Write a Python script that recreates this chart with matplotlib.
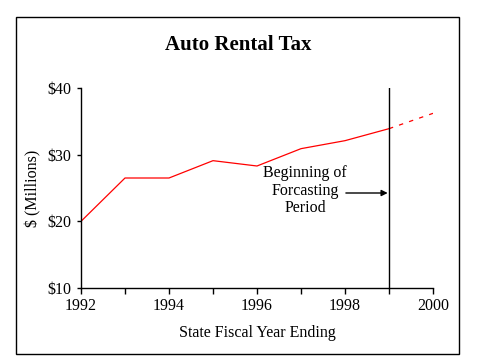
import matplotlib
matplotlib.use("Agg")
import matplotlib.pyplot as plt
from matplotlib.patches import Rectangle

# Data
years_actual = [1992, 1993, 1994, 1995, 1996, 1997, 1998, 1999]
revenue_actual = [20.0, 26.5, 26.5, 29.1, 28.3, 30.9, 32.1, 33.9]
years_forecast = [1999, 2000]
revenue_forecast = [33.9, 36.2]
forecast_start = 1999
x_ticks_major = [1992, 1994, 1996, 1998, 2000]
x_ticks_minor = [1993, 1995, 1997, 1999]
y_ticks = [10, 20, 30, 40]
y_tick_labels = ["$10", "$20", "$30", "$40"]

plt.rcParams['font.family'] = ['Liberation Serif', 'DejaVu Serif']

W, H = 479, 359
fig = plt.figure(figsize=(W / 100, H / 100), dpi=100)
fig.patch.set_facecolor('white')

# Outer frame
fig.patches.append(Rectangle((16 / W, 1 - 354 / H), 443 / W, 337 / H,
                             transform=fig.transFigure, fill=False,
                             edgecolor='black', linewidth=1.0))

ax = fig.add_axes([81 / W, 1 - 288 / H, 352 / W, 200 / H])
ax.plot(years_actual, revenue_actual, color='red', linewidth=0.9)
ax.plot(years_forecast, revenue_forecast, color='red', linewidth=0.9,
        linestyle=(0, (3.5, 5)))
ax.plot([forecast_start, forecast_start], [10, 40], color='black', linewidth=1.0)

ax.set_xlim(1992, 2000)
ax.set_ylim(10, 40)
ax.set_xticks(x_ticks_major)
ax.set_xticks(x_ticks_minor, minor=True)
ax.set_yticks(y_ticks)
ax.set_yticklabels(y_tick_labels)
for s in ['top', 'right']:
    ax.spines[s].set_visible(False)
for s in ['left', 'bottom']:
    ax.spines[s].set_linewidth(1.0)
ax.tick_params(axis='x', which='both', direction='out', length=4.5, width=1.0,
               labelsize=11.5, pad=3)
ax.tick_params(axis='y', direction='out', length=3, width=1.0,
               labelsize=11.5, pad=4)

ax.text(1997.09, 24.6, "Beginning of\nForcasting\nPeriod", ha='center', va='center',
        fontsize=11.5, linespacing=1.1)
ax.annotate("", xy=(1998.97, 24.25), xytext=(1998.02, 24.25),
            arrowprops=dict(arrowstyle='-|>', color='black', lw=1.0,
                            mutation_scale=9, shrinkA=0, shrinkB=0))

fig.text(238 / W, 1 - 45 / H, "Auto Rental Tax", ha='center', va='center',
         fontsize=15, fontweight='bold')
fig.text(33 / W, 1 - 188 / H, "$ (Millions)", ha='center', va='center',
         rotation=90, fontsize=11.5)
fig.text(257 / W, 1 - 333 / H, "State Fiscal Year Ending", ha='center', va='center',
         fontsize=11.5)

fig.savefig("out.png", dpi=100, facecolor='white')
